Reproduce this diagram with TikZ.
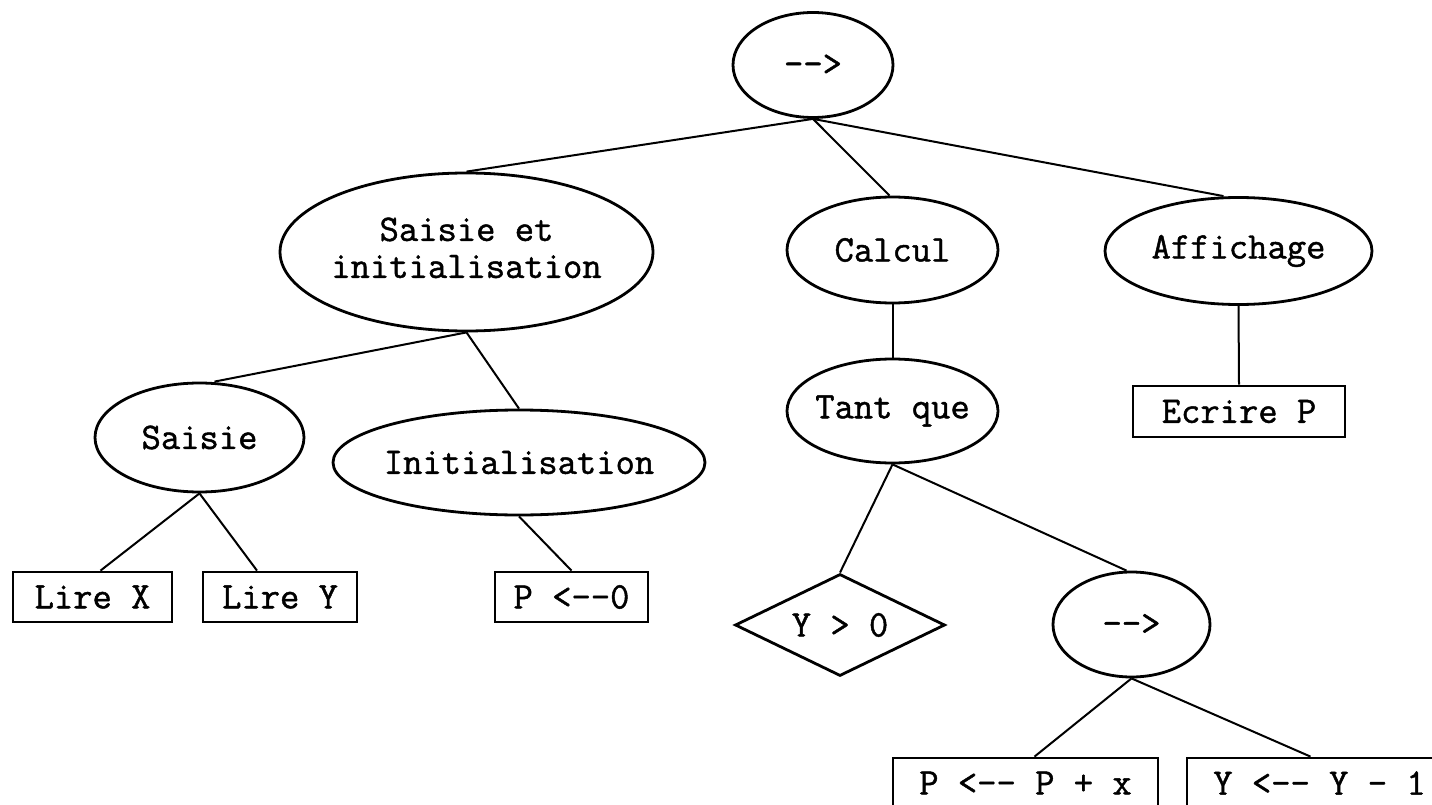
\documentclass[tikz,border=0pt]{standalone}
\usepackage{fontspec}
\newfontfamily\treefont[FakeBold=1.2]{Latin Modern Mono}
\usetikzlibrary{shapes.geometric}
% a zero-width box keeps the label from widening its outline
\newcommand{\nowide}[1]{\makebox[0pt][c]{#1}}
\tikzset{
  lbl/.style={font=\treefont\fontsize{37.5}{37}\selectfont, inner sep=0pt, align=center},
  oval/.style={lbl, ellipse, draw, line width=2.8pt},
  instr/.style={lbl, rectangle, draw, line width=2.8pt},
  cond/.style={lbl, diamond, draw, line width=2.8pt},
  link/.style={line width=2pt},
}
\begin{document}
\begin{tikzpicture}[x=1pt,y=-1pt]
\useasboundingbox (0,0) rectangle (1432,805);
\clip (0,0) rectangle (1432,805);
\fill[white] (0,0) rectangle (1432,805);

% algorithm tree: sequences, loop and instructions
\node[oval, minimum width=160pt, minimum height=105pt] (seq) at (813,65) {\nowide{-->}};
\node[oval, minimum width=373pt, minimum height=158pt] (sinit) at (466.5,252)
  {\nowide{\raisebox{-5pt}{\begin{tabular}{@{}c@{}}Saisie et\\initialisation\end{tabular}}}};
\node[oval, minimum width=211pt, minimum height=106pt] (calc) at (892.5,250) {\nowide{Calcul}};
\node[oval, minimum width=267pt, minimum height=107pt] (aff) at (1238.5,251) {\nowide{Affichage}};

\node[oval, minimum width=209pt, minimum height=109pt] (saisie) at (199.5,437.5) {\nowide{Saisie}};
\node[oval, minimum width=372pt, minimum height=105pt] (init) at (519,462.5) {\nowide{Initialisation}};
\node[oval, minimum width=211pt, minimum height=104pt] (tant) at (892.5,411) {\nowide{Tant que}};
\node[instr, minimum width=212pt, minimum height=51pt] (ecr) at (1239,411.5) {Ecrire P};

\node[instr, minimum width=159pt, minimum height=50pt] (lirex) at (92.5,597) {Lire X};
\node[instr, minimum width=154pt, minimum height=50pt] (lirey) at (280,597) {Lire Y};
\node[instr, minimum width=153pt, minimum height=50pt] (p0) at (571.5,597) {P <--0};
\node[cond, minimum width=210pt, minimum height=102pt] (cond) at (840,625) {\nowide{Y > 0}};
\node[oval, minimum width=157pt, minimum height=105pt] (seq2) at (1131.5,624.5) {\nowide{-->}};

\node[instr, minimum width=265pt, minimum height=50pt] (pp) at (1025.5,783) {P <-- P + x};
\node[instr, minimum width=265pt, minimum height=50pt] (yy) at (1319.5,783) {Y <-- Y - 1};

% connectors
\draw[link] (seq.south) -- (sinit.north);
\draw[link] (seq.south) -- ([xshift=-3pt]calc.north);
\draw[link] (seq.south) -- ([xshift=-15pt]aff.north);
\draw[link] (sinit.south) -- ([xshift=15pt]saisie.north);
\draw[link] (sinit.south) -- (init.north);
\draw[link] (saisie.south) -- ([xshift=8pt]lirex.north);
\draw[link] (saisie.south) -- ([xshift=-23pt]lirey.north);
\draw[link] (init.south) -- (p0.north);
\draw[link] (calc.south) -- (tant.north);
\draw[link] (aff.south) -- (ecr.north);
\draw[link] (tant.south) -- (cond.north);
\draw[link] (tant.south) -- ([xshift=-5pt]seq2.north);
\draw[link] (seq2.south) -- ([xshift=9pt]pp.north);
\draw[link] (seq2.south) -- ([xshift=-9pt]yy.north);
\end{tikzpicture}
\end{document}
